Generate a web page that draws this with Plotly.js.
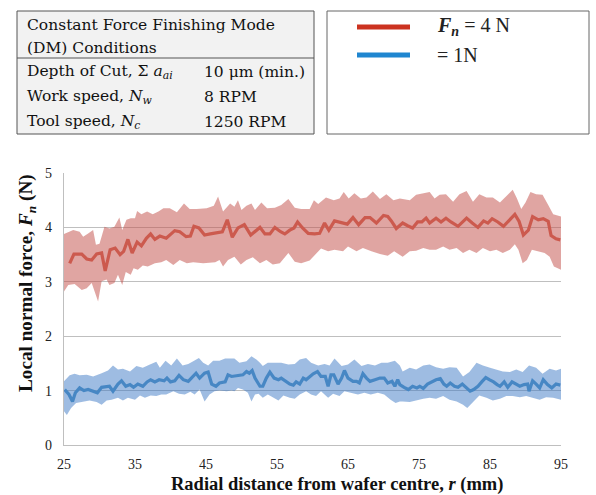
<!DOCTYPE html>
<html>
<head>
<meta charset="utf-8">
<script src="https://cdn.plot.ly/plotly-3.0.1.min.js"></script>
<style>html,body{margin:0;padding:0;background:#fff;}#chart{width:596px;height:495px;}</style>
</head>
<body>
<div id="chart"></div>
<script>
// ---- Data: Fn = 4 N (red) ----
const redMeanX = [25.8,26.4,27.5,28.2,28.9,29.6,30.3,30.8,31.5,32.2,
  32.9,33.4,34.0,34.6,35.3,35.9,36.6,37.2,37.8,38.5,
  39.4,40.6,41.3,42.2,42.8,43.3,44.0,44.8,45.6,46.5,
  47.3,48.0,48.7,49.5,50.4,51.3,51.9,52.6,53.3,54.0,
  54.7,55.5,56.1,56.8,57.4,57.9,58.6,59.4,60.3,61.0,
  61.7,62.3,63.1,64.1,64.9,65.7,66.5,67.4,68.1,69.0,
  70.0,70.6,71.1,71.8,72.7,73.4,74.1,74.8,75.4,76.0,
  76.5,77.4,78.1,78.8,79.5,80.5,81.7,82.5,83.3,84.1,
  84.7,85.3,86.1,86.9,87.8,88.5,89.1,89.7,90.4,91.0,
  91.8,92.5,93.2,93.6,94.3,94.9];
const redMeanY = [3.34,3.51,3.51,3.42,3.40,3.51,3.53,3.20,3.59,3.62,
  3.50,3.56,3.78,3.53,3.73,3.66,3.80,3.88,3.78,3.84,
  3.80,3.94,3.92,3.83,3.84,4.02,3.99,3.86,3.88,3.90,
  3.92,4.14,3.82,3.99,4.05,3.86,3.92,4.00,3.88,3.88,
  4.00,3.92,3.88,3.95,3.99,4.10,3.99,3.89,3.88,3.89,
  4.08,3.95,4.12,4.08,4.06,4.18,4.05,4.18,4.18,4.08,
  4.22,4.20,4.12,3.98,4.08,4.03,3.99,4.10,4.10,4.17,
  4.08,4.17,4.10,4.17,4.10,4.02,4.17,4.08,4.00,4.12,
  4.08,4.16,4.10,4.02,4.14,4.24,4.11,3.86,3.95,4.20,
  4.14,4.16,4.11,3.85,3.79,3.77];
const redUpX = [25.0,26.3,27.2,27.7,28.4,29.1,29.5,30.0,30.7,31.4,
  32.1,32.8,33.2,33.8,34.4,35.0,35.3,35.9,36.7,37.5,
  38.3,39.0,39.9,40.9,41.9,42.7,43.7,45.1,46.1,46.7,
  47.4,48.4,49.0,49.5,50.0,50.7,51.4,51.9,52.8,53.6,
  54.7,55.6,56.6,57.5,58.4,59.6,60.2,60.8,61.9,63.0,
  63.8,64.4,65.1,65.9,66.8,67.6,68.5,69.5,70.4,71.4,
  72.3,73.7,74.6,75.6,76.5,77.2,77.9,78.8,79.8,80.7,
  81.7,82.6,83.5,84.5,85.4,86.4,87.3,88.2,88.8,89.4,
  90.0,90.7,91.5,92.4,93.2,93.9,95.0];
const redUpY = [3.88,3.95,3.92,3.83,3.89,3.95,3.68,3.70,4.01,3.98,
  4.01,4.18,3.95,4.14,4.17,4.17,4.30,4.24,4.29,4.24,
  4.29,4.35,4.35,4.28,4.44,4.34,4.34,4.35,4.40,4.57,
  4.29,4.44,4.38,4.50,4.32,4.40,4.44,4.32,4.46,4.35,
  4.36,4.41,4.52,4.36,4.34,4.34,4.50,4.43,4.55,4.50,
  4.53,4.65,4.53,4.63,4.53,4.55,4.66,4.52,4.61,4.50,
  4.53,4.50,4.60,4.63,4.65,4.53,4.60,4.61,4.47,4.61,
  4.67,4.47,4.61,4.55,4.55,4.46,4.57,4.69,4.53,4.34,
  4.46,4.65,4.61,4.60,4.41,4.24,4.20];
const redLoX = [25.0,25.6,26.5,27.5,28.2,28.9,29.8,30.3,31.0,31.4,
  32.1,32.6,33.2,33.7,34.4,34.8,35.4,36.1,36.8,37.8,
  38.7,39.4,40.4,41.3,42.3,43.2,44.6,46.3,46.9,47.4,
  48.1,49.0,49.9,50.7,51.6,52.6,53.5,54.4,55.4,56.6,
  57.5,58.4,59.6,60.4,61.2,62.2,63.1,64.3,65.0,66.2,
  67.1,68.3,69.5,70.6,71.5,72.7,73.7,74.6,75.6,76.5,
  77.4,78.4,79.3,80.3,81.2,82.1,83.1,84.0,85.0,85.9,
  86.8,87.8,88.5,89.0,89.6,90.2,90.9,91.6,92.7,93.4,
  94.0,95.0];
const redLoY = [2.82,2.94,2.96,2.85,2.88,2.98,2.64,3.01,3.04,2.94,
  2.98,3.13,2.94,3.18,3.13,3.25,3.22,3.30,3.28,3.34,
  3.36,3.40,3.31,3.40,3.34,3.36,3.34,3.36,3.40,3.28,
  3.40,3.46,3.32,3.40,3.45,3.34,3.40,3.32,3.34,3.53,
  3.37,3.34,3.39,3.50,3.61,3.56,3.59,3.56,3.65,3.56,
  3.62,3.56,3.51,3.48,3.56,3.46,3.56,3.57,3.62,3.59,
  3.59,3.65,3.59,3.62,3.53,3.59,3.53,3.62,3.56,3.59,
  3.53,3.59,3.69,3.59,3.34,3.40,3.59,3.56,3.53,3.46,
  3.28,3.22];

// ---- Data: Fn = 1 N (blue) ----
const blueMeanX = [25.1,25.7,26.2,26.6,27.2,27.8,28.4,29.1,29.7,30.3,
  31.0,31.4,31.9,32.6,33.1,33.7,34.3,34.8,35.4,36.1,
  36.7,37.2,37.8,38.4,39.1,39.5,40.0,40.6,41.2,41.8,
  42.5,43.1,43.6,44.1,44.8,45.3,45.8,46.4,46.9,47.7,
  48.1,48.6,49.0,49.5,50.2,50.7,51.1,51.5,51.9,52.6,
  53.0,53.5,54.0,54.6,55.2,55.6,56.2,56.8,57.3,57.7,
  58.2,58.7,59.1,59.6,60.1,60.7,61.2,61.8,62.2,62.6,
  63.0,63.6,64.1,64.5,65.0,65.7,66.2,66.6,67.1,67.6,
  68.1,68.8,69.5,70.1,70.6,71.2,71.6,72.0,72.3,72.9,
  73.5,74.1,74.7,75.1,75.6,76.2,76.8,77.4,78.0,78.5,
  78.9,79.4,80.0,80.5,81.1,81.7,82.2,82.7,83.3,83.9,
  84.4,84.9,85.5,86.0,86.4,87.0,87.5,88.1,88.7,89.2,
  89.8,90.3,90.5,91.0,91.5,92.0,92.5,93.1,93.7,94.3,
  94.9];
const blueMeanY = [1.02,0.93,0.80,0.96,1.05,1.00,1.02,0.99,0.96,1.06,
  1.07,1.08,0.99,1.12,1.18,1.08,1.11,1.06,1.12,1.08,
  1.16,1.20,1.16,1.20,1.18,1.23,1.16,1.18,1.28,1.20,
  1.17,1.26,1.32,1.23,1.32,1.34,1.12,1.08,1.14,1.16,
  1.29,1.26,1.27,1.28,1.29,1.35,1.32,1.37,1.23,1.08,
  1.08,1.23,1.34,1.23,1.20,1.23,1.18,1.12,1.10,1.16,
  1.12,1.23,1.20,1.26,1.31,1.35,1.26,1.26,1.08,1.29,
  1.29,1.12,1.23,1.37,1.23,1.17,1.17,1.14,1.31,1.23,
  1.17,1.20,1.23,1.23,1.14,1.17,1.08,1.20,1.11,1.06,
  1.02,1.08,1.05,1.08,1.04,1.12,1.16,1.20,1.22,1.12,
  1.08,1.14,1.08,1.06,1.12,1.04,0.99,1.02,1.08,1.17,
  1.24,1.20,1.16,1.11,1.08,1.16,1.06,1.16,1.12,1.08,
  1.11,1.12,0.99,1.18,1.12,1.05,1.20,1.11,1.05,1.12,
  1.10];
const blueUpX = [25.0,25.8,26.5,27.2,28.2,29.1,30.3,31.2,31.9,32.6,
  33.3,34.3,35.2,36.1,37.1,38.0,38.5,39.3,40.1,40.9,
  41.7,42.5,43.2,44.0,44.6,45.3,46.0,46.9,47.7,48.6,
  49.0,49.7,50.7,51.4,52.1,52.6,53.0,53.7,54.6,55.6,
  56.6,57.5,58.2,59.1,59.8,60.8,61.7,62.4,63.1,64.1,
  65.0,65.9,66.9,67.8,68.8,69.7,70.6,71.6,72.3,72.7,
  73.7,74.6,75.6,76.5,77.4,78.4,79.3,80.3,81.2,82.1,
  83.1,84.0,85.0,85.9,86.8,87.8,88.7,89.6,90.5,91.5,
  92.4,93.4,94.3,95.0];
const blueUpY = [1.17,1.28,1.31,1.28,1.29,1.26,1.32,1.37,1.46,1.39,
  1.40,1.35,1.45,1.42,1.48,1.53,1.42,1.55,1.46,1.59,
  1.46,1.49,1.54,1.60,1.51,1.46,1.55,1.55,1.59,1.59,
  1.59,1.51,1.54,1.63,1.57,1.51,1.45,1.51,1.51,1.51,
  1.48,1.49,1.57,1.60,1.51,1.46,1.49,1.46,1.59,1.45,
  1.48,1.57,1.45,1.49,1.46,1.51,1.51,1.55,1.46,1.35,
  1.42,1.39,1.46,1.48,1.43,1.40,1.43,1.42,1.26,1.34,
  1.51,1.46,1.42,1.39,1.35,1.34,1.39,1.34,1.46,1.42,
  1.31,1.40,1.37,1.40];
const blueLoX = [25.0,25.4,26.0,26.7,27.7,28.6,29.6,30.3,31.0,31.7,
  32.6,33.3,34.0,35.0,35.7,36.4,37.2,38.0,38.7,39.4,
  40.4,41.2,42.0,42.8,43.4,44.1,44.8,45.5,46.2,46.9,
  47.9,48.6,49.0,49.5,50.2,50.9,51.4,51.9,52.4,53.0,
  53.7,54.4,55.2,55.9,56.8,57.5,58.2,59.1,59.8,60.5,
  61.2,62.2,62.9,63.8,64.5,65.4,66.4,67.3,68.2,69.2,
  70.1,71.0,71.7,72.3,72.7,73.7,74.6,75.6,76.5,77.4,
  78.4,79.3,80.3,81.2,81.8,82.6,83.5,84.5,85.4,86.4,
  87.3,88.2,89.2,90.1,91.0,92.0,92.9,93.9,95.0];
const blueLoY = [0.62,0.55,0.68,0.77,0.80,0.82,0.79,0.74,0.82,0.83,
  0.87,0.82,0.87,0.83,0.91,0.87,0.91,0.90,0.93,0.93,
  0.99,0.94,0.93,0.98,0.93,1.02,0.80,0.93,0.99,1.00,
  0.99,1.00,0.99,1.05,1.02,0.96,0.80,0.93,0.94,0.87,
  0.93,0.88,0.82,0.91,0.87,0.85,0.93,0.99,0.93,0.90,
  0.99,0.87,0.94,0.90,0.99,0.96,0.93,0.96,0.93,0.96,
  0.93,0.83,0.77,0.80,0.80,0.79,0.82,0.85,0.87,0.85,
  0.90,0.83,0.80,0.74,0.68,0.79,0.91,0.87,0.82,0.85,
  0.90,0.90,0.88,0.90,0.87,0.83,0.88,0.87,0.83];

// ---- Text ----
const xTickVals = [25,35,45,55,65,75,85,95];
const xTickText = ['25','35','45','55','65','75','85','95'];
const yTickVals = [0,1,2,3,4,5];
const xTitle = '<b>Radial distance from wafer centre, <i>r</i> (mm)</b>';
const yTitle = '<b>Local normal force, <i>F</i><sub><i>n</i></sub> (N)</b>';
const tableHeader = ['Constant Force Finishing Mode','(DM) Conditions'];
const tableLabels = ['Depth of Cut, Σ <i>a</i><sub><i>ai</i></sub>','Work speed, <i>N</i><sub><i>w</i></sub>','Tool speed, <i>N</i><sub><i>c</i></sub>'];
const tableValues = ['10 μm (min.)','8 RPM','1250 RPM'];
const legendLabels = ['<b><i>F</i></b><sub><b><i>n</i></b></sub> = 4 N','= 1N'];

// ---- Layout geometry (pixels) ----
const W = 596, H = 495;
const M = {l:64, r:35, t:173, b:50};
const PW = W - M.l - M.r, PH = H - M.t - M.b;
const px = x => (x - M.l) / PW;
const py = y => (H - M.b - y) / PH;

function band(ux, uy, lx, ly) {
  return {x: ux.concat(lx.slice().reverse()), y: uy.concat(ly.slice().reverse())};
}
const rb = band(redUpX, redUpY, redLoX, redLoY);
const bb = band(blueUpX, blueUpY, blueLoX, blueLoY);

const traces = [
  {x: rb.x, y: rb.y, type:'scatter', mode:'lines', fill:'toself', fillcolor:'rgba(196,82,76,0.52)', line:{width:0}, hoverinfo:'skip', showlegend:false},
  {x: bb.x, y: bb.y, type:'scatter', mode:'lines', fill:'toself', fillcolor:'rgba(62,122,198,0.5)', line:{width:0}, hoverinfo:'skip', showlegend:false},
  {x: redMeanX, y: redMeanY, type:'scatter', mode:'lines', line:{color:'#cc5a4e', width:3.2}, showlegend:false},
  {x: blueMeanX, y: blueMeanY, type:'scatter', mode:'lines', line:{color:'#4787c4', width:3.2}, showlegend:false}
];

const serif = 'Liberation Serif, Times New Roman, serif';
const tblFont = {family:'DejaVu Serif, serif', size:15.5, color:'#111'};
const annotations = [];
function addText(text, x, y, font, opts) {
  const a = {text:text, xref:'paper', yref:'paper', x:px(x), y:py(y), xanchor:'left', yanchor:'middle', showarrow:false, font:font};
  Object.assign(a, opts || {});
  annotations.push(a);
}
addText(tableHeader[0], 25, 25, tblFont);
addText(tableHeader[1], 25, 48, tblFont);
const rowY = [72, 97, 122];
for (let i = 0; i < tableLabels.length; i++) {
  addText(tableLabels[i], 25, rowY[i], tblFont);
  addText(tableValues[i], 202, rowY[i], tblFont);
}
const legFont = {family: serif, size:20, color:'#222'};
addText(legendLabels[0], 435, 27, legFont);
addText(legendLabels[1], 435, 55, legFont);
// axis titles placed as text at their reference positions
addText(yTitle, 27, 283, {family:serif, size:19.2, color:'#111'}, {xanchor:'center', textangle:-90});
addText(xTitle, 337, 484, {family:serif, size:18.5, color:'#111'}, {xanchor:'center'});

const shapes = [
  {type:'rect', xref:'paper', yref:'paper', x0:px(17), x1:px(314), y0:py(11), y1:py(134), line:{color:'#555', width:1}, fillcolor:'#f2f2f2', layer:'below'},
  {type:'line', xref:'paper', yref:'paper', x0:px(17), x1:px(314), y0:py(58), y1:py(58), line:{color:'#555', width:1}},
  {type:'rect', xref:'paper', yref:'paper', x0:px(327), x1:px(589), y0:py(11), y1:py(134), line:{color:'#666', width:1}, fillcolor:'#fff', layer:'below'},
  {type:'line', xref:'paper', yref:'paper', x0:px(357), x1:px(410), y0:py(27), y1:py(27), line:{color:'#cc3320', width:5}},
  {type:'line', xref:'paper', yref:'paper', x0:px(357), x1:px(410), y0:py(55), y1:py(55), line:{color:'#1f86d0', width:5}}
];

const layout = {
  width: W, height: H,
  margin: M,
  paper_bgcolor:'#fff', plot_bgcolor:'#fff',
  showlegend:false,
  font:{family:serif, color:'#222', size:14},
  xaxis:{range:[25,95], tickmode:'array', tickvals:xTickVals, ticktext:xTickText, showgrid:false, zeroline:false,
    showline:true, linecolor:'#bfbfbf', linewidth:1.3, ticks:'', ticklabelstandoff:6,
    tickfont:{family:serif, size:14, color:'#222'}},
  yaxis:{range:[0,5], tickmode:'array', tickvals:yTickVals, showgrid:true, gridcolor:'#bfbfbf', gridwidth:1.3, zeroline:false,
    showline:true, linecolor:'#bfbfbf', linewidth:1.3, ticks:'', ticklabelstandoff:8,
    tickfont:{family:serif, size:14, color:'#222'}},
  annotations: annotations,
  shapes: shapes
};

Plotly.newPlot('chart', traces, layout, {displayModeBar:false, staticPlot:true});
</script>
</body>
</html>
